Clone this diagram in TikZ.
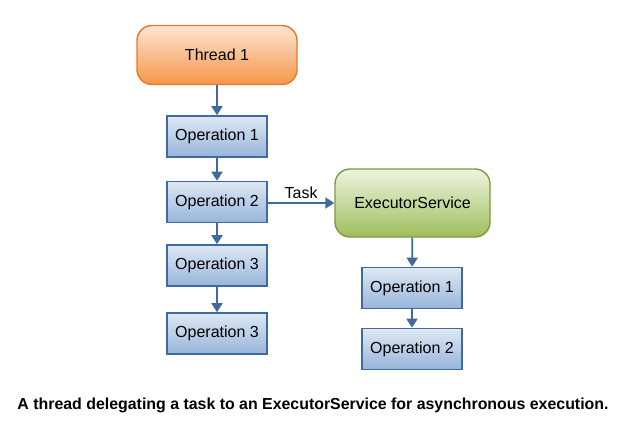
\documentclass[tikz,border=0pt]{standalone}
\usepackage{fontspec}
\setmainfont{Liberation Sans}
\usetikzlibrary{arrows.meta,shadings}
\definecolor{opBorder}{HTML}{3F6A9E}
\definecolor{opTop}{HTML}{DEE8F4}
\definecolor{opBot}{HTML}{97B5DA}
\definecolor{thBorder}{HTML}{E8782A}
\definecolor{thTop}{HTML}{FDE5D2}
\definecolor{thBot}{HTML}{F5964A}
\definecolor{exBorder}{HTML}{7C9A45}
\definecolor{exTop}{HTML}{EEF4DF}
\definecolor{exBot}{HTML}{9EBE5C}
\definecolor{arrowCol}{HTML}{3F6A9E}
\tikzset{
  lbl/.style={font=\fontsize{16}{19}\selectfont},
  opbox/.style={lbl, draw=opBorder, line width=1.6pt, top color=opTop, bottom color=opBot,
    minimum width=100pt, minimum height=41pt, inner sep=0pt},
  threadbox/.style={lbl, draw=thBorder, line width=1.4pt, rounded corners=15pt, top color=thTop, bottom color=thBot,
    minimum width=160pt, minimum height=59pt, inner sep=0pt},
  execbox/.style={lbl, draw=exBorder, line width=1.4pt, rounded corners=15pt, top color=exTop, bottom color=exBot,
    minimum width=155pt, minimum height=68pt, inner sep=0pt},
  flow/.style={draw=arrowCol, line width=1.8pt, -{Triangle[length=9pt,width=11pt]}}
}
\begin{document}
\begin{tikzpicture}[x=1pt,y=-1pt]
\useasboundingbox (0,0) rectangle (623,424);
\node[threadbox] (t1) at (217,55) {Thread 1};
\node[opbox] (o1) at (217,136.5) {Operation 1};
\node[opbox] (o2) at (217,202) {Operation 2};
\node[opbox] (o3) at (217,265.5) {Operation 3};
\node[opbox] (o4) at (217,333.5) {Operation 3};
\node[execbox] (ex) at (412.5,203) {ExecutorService};
\node[opbox] (r1) at (412,288) {Operation 1};
\node[opbox] (r2) at (412,349) {Operation 2};
\draw[flow] (t1) -- (o1);
\draw[flow] (o1) -- (o2);
\draw[flow] (o2) -- (o3);
\draw[flow] (o3) -- (o4);
\draw[flow] (ex) -- (r1);
\draw[flow] (r1) -- (r2);
\draw[flow] (o2.east |- ex.west) -- node[lbl, above=0pt, text=black] (tl) {Task} (ex.west);
\node[font=\bfseries\fontsize{15.9}{19}\selectfont] (cap) at (313,405) {A thread delegating a task to an ExecutorService for asynchronous execution.};
\end{tikzpicture}
\end{document}
